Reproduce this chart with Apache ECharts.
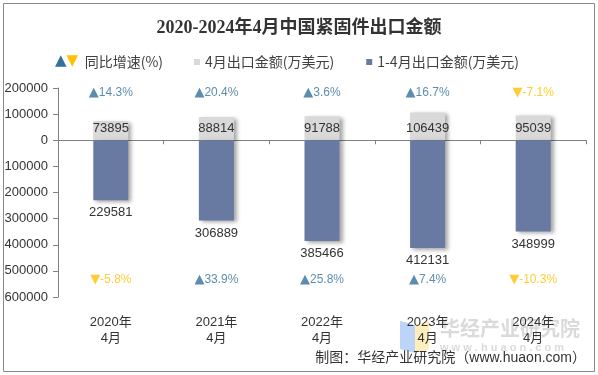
<!DOCTYPE html>
<html>
<head>
<meta charset="utf-8">
<script src="https://cdn.jsdelivr.net/npm/echarts@6/dist/echarts.min.js"></script>
<style>
html, body { margin: 0; padding: 0; background: #fff; }
#main { width: 598px; height: 375px; }
</style>
</head>
<body>
<div id="main"></div>
<script>
// 数据
var cats = ['2020年\n4月', '2021年\n4月', '2022年\n4月', '2023年\n4月', '2024年\n4月'];
var aprVal = [73895, 88814, 91788, 106439, 95039];          // 4月出口金额(万美元)
var ytdVal = [229581, 306889, 385466, 412131, 348999];      // 1-4月出口金额(万美元)
var aprRate = [14.3, 20.4, 3.6, 16.7, -7.1];                // 4月同比增速
var ytdRate = [-5.8, 33.9, 25.8, 7.4, -10.3];               // 1-4月同比增速

var UP = '#33719A';
var DOWN = '#FFC000';
var rowTop = 182000;    // 增速标签所在行
var rowBottom = -535000;

var myChart = echarts.init(document.getElementById('main'));

function rateItems(rates, level) {
	var arr = [];
	for (var i = 0; i < rates.length; i++) {
		var r = rates[i];
		var k = r >= 0 ? 'u' : 'd';
		arr.push({
			value: [i, level],
			label: {
				formatter: '{' + k + 'a|' + (r >= 0 ? '▲' : '▼') + '}{' + k + '|' + r.toFixed(1) + '%}'
			}
		});
	}
	return arr;
}

var rateRich = {
	ua: { color: UP, fontSize: 13, fontFamily: 'DejaVu Sans' },
	u: { color: UP, fontSize: 12, fontFamily: 'Liberation Sans' },
	da: { color: DOWN, fontSize: 13, fontFamily: 'DejaVu Sans' },
	d: { color: DOWN, fontSize: 12, fontFamily: 'Liberation Sans' }
};

var ytdNeg = [];
for (var i = 0; i < ytdVal.length; i++) {
	ytdNeg.push(-ytdVal[i]);
}

var barShadow = {
	shadowColor: 'rgba(0,0,0,0.35)',
	shadowBlur: 4,
	shadowOffsetX: 3,
	shadowOffsetY: 2
};

var option = {
	backgroundColor: '#fff',
	animation: false,
	textStyle: { fontFamily: 'Liberation Sans, Noto Sans CJK SC, sans-serif' },
	title: {
		text: '2020-2024年4月中国紧固件出口金额',
		left: 'center',
		top: 14,
		textStyle: {
			fontFamily: 'Liberation Serif, Noto Sans CJK SC, serif',
			fontSize: 18,
			fontWeight: 'bold',
			color: '#333'
		}
	},
	legend: [
		{
			data: ['同比增速(%)'],
			left: 45,
			top: 49,
			itemWidth: 0,
			itemHeight: 0,
			formatter: function () {
				return '{u|▲}{d|▼}  {t|同比增速(%)}';
			},
			textStyle: {
				rich: {
					u: { color: UP, fontSize: 15, fontFamily: 'DejaVu Sans' },
					d: { color: DOWN, fontSize: 15, fontFamily: 'DejaVu Sans' },
					t: { color: '#404040', fontSize: 14, fontFamily: 'Noto Sans CJK SC' }
				}
			}
		},
		{
			data: ['4月出口金额(万美元)', '1-4月出口金额(万美元)'],
			left: 189,
			top: 50,
			icon: 'rect',
			itemWidth: 6,
			itemHeight: 6,
			itemGap: 32,
			textStyle: { color: '#404040', fontSize: 14, fontFamily: 'Noto Sans CJK SC' }
		}
	],
	grid: {
		left: 58,
		right: 12,
		top: 88,
		bottom: 78,
		outerBoundsMode: 'none'
	},
	xAxis: [
		{
			// 底部标签
			type: 'category',
			data: cats,
			position: 'bottom',
			axisLine: { show: false, onZero: false },
			axisTick: { show: false },
			axisLabel: {
				margin: 17,
				fontSize: 13,
				lineHeight: 16,
				color: '#333'
			}
		},
		{
			// 零线
			type: 'category',
			data: cats,
			position: 'bottom',
			axisLine: { onZero: true, lineStyle: { color: '#808080', width: 1 } },
			axisTick: { show: true, length: 4, inside: false, lineStyle: { color: '#808080' } },
			axisLabel: { show: false }
		}
	],
	yAxis: {
		type: 'value',
		min: -600000,
		max: 200000,
		interval: 100000,
		splitLine: { show: false },
		axisLine: { show: true, lineStyle: { color: '#808080' } },
		axisTick: { show: true, length: 5, lineStyle: { color: '#808080' } },
		axisLabel: {
			margin: 10,
			fontSize: 13,
			color: '#333',
			formatter: function (v) { return String(Math.abs(v)); }
		}
	},
	series: [
		{
			name: '4月出口金额(万美元)',
			type: 'bar',
			barWidth: 35,
			barGap: '-100%',
			itemStyle: Object.assign({ color: '#D9D9D9' }, barShadow),
			label: {
				show: true,
				position: 'insideBottom',
				distance: 5,
				fontSize: 13,
				color: '#333'
			},
			data: aprVal
		},
		{
			name: '1-4月出口金额(万美元)',
			type: 'bar',
			barWidth: 35,
			itemStyle: Object.assign({ color: '#687AA1' }, barShadow),
			label: {
				show: true,
				position: 'bottom',
				distance: 6,
				fontSize: 13,
				color: '#333',
				formatter: function (p) { return String(Math.abs(p.value)); }
			},
			data: ytdNeg
		},
		{
			name: '同比增速(%)',
			type: 'scatter',
			symbolSize: 0,
			itemStyle: { color: UP },
			label: { show: true, position: 'inside', rich: rateRich },
			data: rateItems(aprRate, rowTop)
		},
		{
			name: '同比增速(%)',
			type: 'scatter',
			symbolSize: 0,
			itemStyle: { color: UP },
			label: { show: true, position: 'inside', rich: rateRich },
			data: rateItems(ytdRate, rowBottom)
		}
	],
	graphic: [
		{
			type: 'rect',
			shape: { x: 3.5, y: 3.5, width: 591, height: 368 },
			style: { fill: 'none', stroke: '#8a8a8a', lineWidth: 1 },
			silent: true
		},
		// 水印
		{
			type: 'polygon',
			shape: { points: [[400, 321], [415, 325], [415, 353], [400, 349]] },
			style: { fill: 'rgba(120,170,240,0.5)' },
			silent: true
		},
		{
			type: 'polygon',
			shape: { points: [[415, 325], [429, 321], [429, 349], [415, 353]] },
			style: { fill: 'rgba(255,220,120,0.5)' },
			silent: true
		},
		{
			type: 'text',
			left: 440,
			top: 318,
			silent: true,
			style: {
				text: '华经产业研究院',
				fontSize: 20,
				fontWeight: 'bold',
				fontFamily: 'Noto Sans CJK SC',
				fill: 'rgba(150,150,150,0.35)'
			}
		},
		{
			type: 'text',
			left: 440,
			top: 342,
			silent: true,
			style: {
				text: 'w w w . h u a o n . c o m',
				fontSize: 11,
				fontWeight: 'bold',
				fontFamily: 'Liberation Sans',
				fill: 'rgba(150,150,150,0.35)'
			}
		},
		{
			type: 'text',
			right: 12,
			top: 351,
			silent: true,
			style: {
				text: '制图：华经产业研究院（www.huaon.com）',
				fontSize: 14,
				fontFamily: 'Liberation Sans, Noto Sans CJK SC',
				fill: '#333'
			}
		}
	]
};
myChart.setOption(option);
</script>
</body>
</html>
